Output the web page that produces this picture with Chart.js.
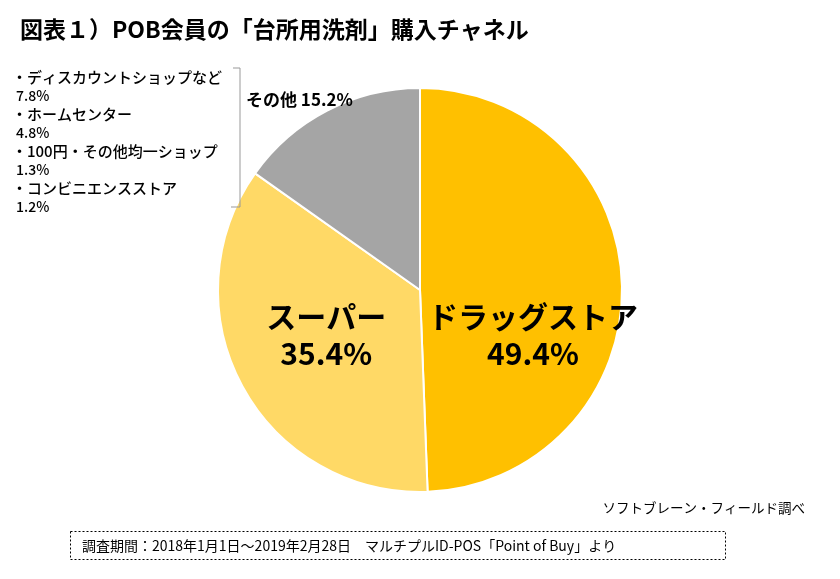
<!DOCTYPE html>
<html>
<head>
<meta charset="utf-8">
<script src="https://cdn.jsdelivr.net/npm/chart.js@4"></script>
<style>
  html, body { margin: 0; padding: 0; background: #fff; }
  #wrap { width: 840px; height: 579px; position: relative; }
</style>
</head>
<body>
<div id="wrap"><canvas id="myChart" width="840" height="579"></canvas></div>
<script>
// 数据
var categories = ['ドラッグストア', 'スーパー', 'その他'];
var shares = [49.4, 35.4, 15.2];
var colors = ['#FFC000', '#FFD966', '#A5A5A5'];
var otherNotes = [
    ['・ディスカウントショップなど', '7.8%'],
    ['・ホームセンター', '4.8%'],
    ['・100円・その他均一ショップ', '1.3%'],
    ['・コンビニエンスストア', '1.2%']
];
var titleText = '図表１）POB会員の「台所用洗剤」購入チャネル';
var sourceText = 'ソフトブレーン・フィールド調べ';
var periodText = '調査期間：2018年1月1日～2019年2月28日　マルチプルID-POS「Point of Buy」より';

var FONT = '"Noto Sans CJK JP", "Noto Sans", sans-serif';

var decor = {
    id: 'decor',
    afterDraw: function (chart) {
        var c = chart.ctx;
        c.save();
        c.fillStyle = '#000';
        c.textBaseline = 'middle';
        // タイトル
        c.font = 'bold 23px ' + FONT;
        c.textAlign = 'left';
        c.fillText(titleText, 20, 29);

        // 大きいラベル（両方とも同じ高さ）
        var meta = chart.getDatasetMeta(0);
        var p0 = meta.data[0].tooltipPosition();
        c.textAlign = 'center';
        c.font = 'bold 30px ' + FONT;
        [0, 1].forEach(function (i) {
            var p = meta.data[i].tooltipPosition();
            var x = i === 0 ? p.x + 12 : p.x - 5;
            c.fillText(categories[i], x, p0.y + 28);
            c.fillText(shares[i].toFixed(1) + '%', x, p0.y + 65);
        });
        c.font = 'bold 17px ' + FONT;
        c.textAlign = 'left';
        c.fillText(categories[2] + ' ' + shares[2].toFixed(1) + '%', 246, 100);

        // その他の内訳
        c.font = '500 15px ' + FONT;
        var y = 77;
        otherNotes.forEach(function (n) {
            c.fillText(n[0], 12, y);
            c.font = '500 14px ' + FONT;
            c.fillText(n[1], 16, y + 19);
            c.font = '500 15px ' + FONT;
            y += 37;
        });
        c.strokeStyle = '#999';
        c.lineWidth = 1;
        c.beginPath();
        c.moveTo(233, 68); c.lineTo(240, 68); c.lineTo(240, 207); c.lineTo(231, 207);
        c.stroke();

        // 出典
        c.font = '13.5px ' + FONT;
        c.textAlign = 'right';
        c.fillText(sourceText, 805, 508);
        c.setLineDash([2, 2]);
        c.strokeStyle = '#000';
        c.strokeRect(70.5, 531.5, 655, 28);
        c.setLineDash([]);
        c.font = '14px ' + FONT;
        c.textAlign = 'left';
        c.fillText(periodText, 82, 546);
        c.restore();
    }
};

new Chart(document.getElementById('myChart'), {
    type: 'pie',
    data: {
        labels: categories,
        datasets: [{
            data: shares,
            backgroundColor: colors,
            borderColor: '#fff',
            borderWidth: 2
        }]
    },
    options: {
        responsive: false,
        animation: false,
        layout: { padding: { left: 217, right: 217, top: 87, bottom: 86 } },
        plugins: { legend: { display: false }, tooltip: { enabled: false } }
    },
    plugins: [decor]
});
</script>
</body>
</html>
